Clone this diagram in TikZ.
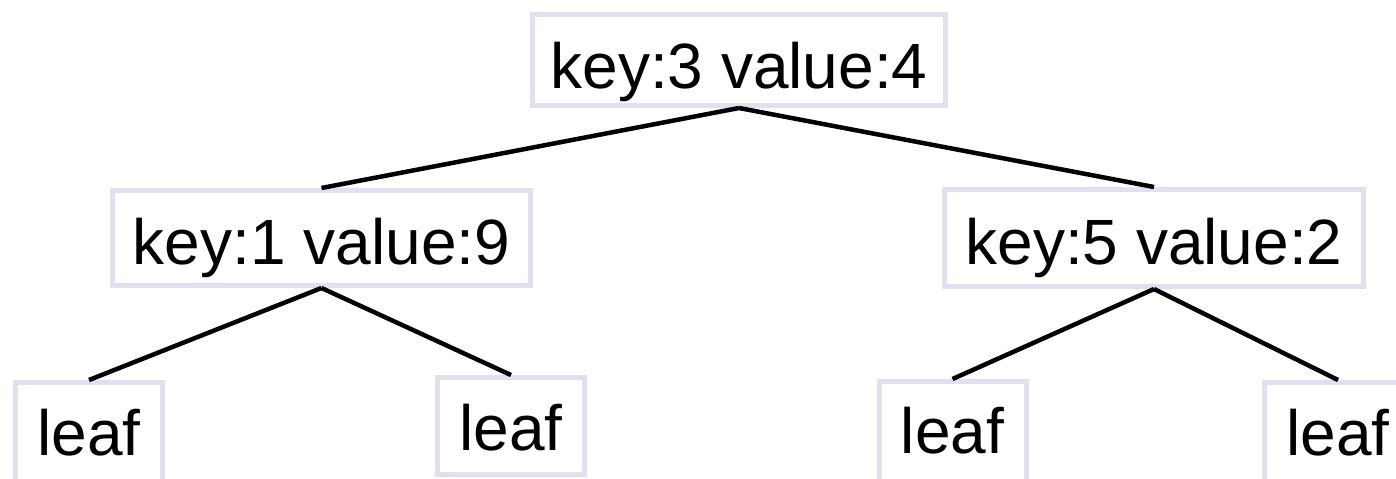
\documentclass[tikz,border=0pt]{standalone}
\usepackage{fontspec}
\setmainfont{Liberation Sans}
\definecolor{boxline}{RGB}{224,224,240}
\begin{document}
\begin{tikzpicture}[x=0.5pt,y=-0.5pt,
  tbox/.style={draw=boxline, line width=2.5pt, inner xsep=0pt, inner ysep=0pt,
    anchor=base, font=\fontsize{32}{38}\selectfont},
  leafbox/.style={tbox, minimum width=73.5pt, text height=36.25pt},
  edge/.style={line width=2.25pt, black}]
\useasboundingbox (0,0) rectangle (1396,478);
\fill[white] (0,0) rectangle (1396,478);
\clip (0,0) rectangle (1396,478);

% inner nodes
\node[tbox, minimum width=206.5pt, text height=36.75pt, text depth=8.75pt] (root) at (739,88) {key:3 value:4};
\node[tbox, minimum width=209pt, text height=36.75pt, text depth=10.75pt] (left) at (321.5,264) {key:1 value:9};
\node[tbox, minimum width=209.5pt, text height=37.25pt, text depth=11.25pt] (right) at (1154,264) {key:5 value:2};

% leaves
\node[leafbox, text depth=15pt] (l1) at (89,455) {leaf};
\node[leafbox, text depth=12.25pt] (l2) at (511,450) {leaf};
\node[leafbox, text height=35.75pt, text depth=15pt] (l3) at (952.5,453) {leaf};
\node[leafbox, text depth=15pt] (l4) at (1338,455) {leaf};

% tree edges
\draw[edge] (root.south) -- (left.north);
\draw[edge] (root.south) -- (right.north);
\draw[edge] (left.south) -- (l1.north);
\draw[edge] (left.south) -- (l2.north);
\draw[edge] (right.south) -- (l3.north);
\draw[edge] (right.south) -- (l4.north);
\end{tikzpicture}
\end{document}
